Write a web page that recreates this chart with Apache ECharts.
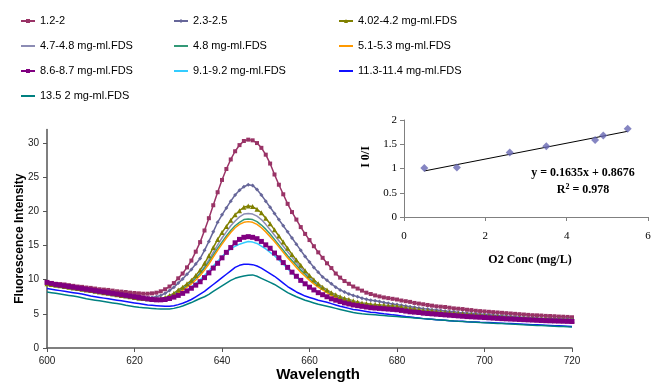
<!DOCTYPE html>
<html>
<head>
<meta charset="utf-8">
<script src="https://cdn.jsdelivr.net/npm/echarts@6/dist/echarts.min.js"></script>
<style>
  html, body { margin: 0; padding: 0; background: #fff; }
  #chart { width: 651px; height: 383px; }
</style>
</head>
<body>
<div id="chart"></div>
<script>
// wavelength (nm), 1 nm steps
const wavelength = [
  600,601,602,603,604,605,606,607,608,609,610,611,612,613,614,615,616,617,618,619,
  620,621,622,623,624,625,626,627,628,629,630,631,632,633,634,635,636,637,638,639,
  640,641,642,643,644,645,646,647,648,649,650,651,652,653,654,655,656,657,658,659,
  660,661,662,663,664,665,666,667,668,669,670,671,672,673,674,675,676,677,678,679,
  680,681,682,683,684,685,686,687,688,689,690,691,692,693,694,695,696,697,698,699,
  700,701,702,703,704,705,706,707,708,709,710,711,712,713,714,715,716,717,718,719,720
];

const fds12 = [
  9.6,9.5,9.4,9.35,9.3,9.2,9.1,9.0,8.95,8.85,8.8,8.7,8.6,8.55,8.5,8.4,8.3,8.25,8.2,8.1,
  8.05,8.0,7.95,7.95,8.0,8.1,8.3,8.6,9.0,9.5,10.2,10.9,11.8,12.8,14.1,15.5,17.2,19.0,20.9,22.8,
  24.6,26.2,27.6,28.8,29.7,30.3,30.5,30.4,30.0,29.3,28.3,27.0,25.4,23.9,22.5,21.1,19.9,18.8,17.7,16.7,
  15.8,14.9,14.0,13.2,12.4,11.7,10.9,10.3,9.8,9.4,9.0,8.7,8.4,8.1,7.9,7.7,7.55,7.4,7.3,7.2,
  7.1,6.95,6.85,6.75,6.6,6.5,6.4,6.3,6.2,6.1,6.05,6.0,5.9,5.8,5.75,5.7,5.6,5.55,5.45,5.4,
  5.35,5.3,5.25,5.2,5.15,5.1,5.05,5.0,4.95,4.9,4.85,4.8,4.78,4.75,4.7,4.68,4.65,4.6,4.58,4.55,4.5
];
const fds23 = [
  9.5,9.4,9.3,9.2,9.1,9.0,8.9,8.8,8.7,8.6,8.5,8.4,8.3,8.2,8.1,8.0,7.9,7.8,7.7,7.6,
  7.5,7.45,7.4,7.35,7.4,7.5,7.7,8.0,8.4,8.9,9.5,10.1,10.8,11.5,12.3,13.1,14.3,15.6,17.0,18.4,
  19.5,20.5,21.5,22.4,23.1,23.6,23.9,23.8,23.2,22.4,21.5,20.6,19.7,18.8,17.9,17.0,16.1,15.2,14.3,13.4,
  12.6,11.8,11.1,10.4,9.9,9.4,8.9,8.5,8.2,7.9,7.7,7.5,7.3,7.15,7.0,6.9,6.8,6.65,6.55,6.45,
  6.35,6.25,6.15,6.05,5.95,5.85,5.75,5.7,5.6,5.55,5.5,5.4,5.35,5.3,5.2,5.15,5.1,5.05,5.0,4.95,
  4.9,4.85,4.8,4.75,4.7,4.65,4.6,4.55,4.5,4.45,4.4,4.38,4.35,4.33,4.3,4.28,4.25,4.23,4.2,4.2,4.18
];
const fds402 = [
  9.4,9.3,9.2,9.1,9.0,8.9,8.8,8.7,8.6,8.5,8.4,8.3,8.2,8.1,8.0,7.9,7.8,7.7,7.6,7.5,
  7.4,7.3,7.25,7.2,7.15,7.15,7.25,7.4,7.7,8.0,8.5,8.9,9.4,9.9,10.6,11.4,12.4,13.5,14.7,15.9,
  16.9,17.8,18.7,19.5,20.1,20.6,20.8,20.7,20.3,19.8,19.0,18.2,17.3,16.4,15.5,14.6,13.7,12.9,12.1,11.3,
  10.6,10.0,9.4,8.9,8.5,8.1,7.8,7.5,7.3,7.1,6.9,6.75,6.6,6.5,6.4,6.35,6.3,6.25,6.2,6.15,
  6.1,6.0,5.9,5.8,5.7,5.6,5.5,5.45,5.4,5.3,5.25,5.2,5.15,5.1,5.05,5.0,4.95,4.9,4.85,4.8,
  4.75,4.7,4.65,4.6,4.55,4.5,4.45,4.4,4.38,4.35,4.3,4.28,4.25,4.22,4.2,4.18,4.15,4.12,4.1,4.08,4.05
];
const fds47 = [
  9.4,9.3,9.2,9.1,9.0,8.9,8.8,8.7,8.6,8.5,8.4,8.3,8.2,8.1,8.0,7.9,7.8,7.7,7.6,7.5,
  7.4,7.3,7.2,7.15,7.1,7.1,7.2,7.35,7.6,7.9,8.3,8.7,9.2,9.7,10.3,11.0,11.9,12.9,14.0,15.1,
  16.1,17.0,17.9,18.6,19.2,19.6,19.7,19.6,19.3,18.8,18.1,17.3,16.5,15.7,14.9,14.1,13.3,12.5,11.8,11.1,
  10.4,9.8,9.3,8.8,8.4,8.0,7.7,7.4,7.2,7.0,6.8,6.65,6.5,6.4,6.3,6.25,6.2,6.15,6.1,6.05,
  6.0,5.9,5.8,5.7,5.6,5.5,5.45,5.4,5.3,5.25,5.2,5.15,5.1,5.05,5.0,4.95,4.9,4.85,4.8,4.75,
  4.7,4.65,4.6,4.55,4.5,4.45,4.4,4.37,4.34,4.3,4.27,4.24,4.21,4.18,4.15,4.12,4.1,4.08,4.05,4.03,4.0
];
const fds48 = [
  9.3,9.2,9.1,9.0,8.9,8.8,8.7,8.6,8.5,8.4,8.3,8.2,8.1,8.0,7.9,7.8,7.7,7.6,7.5,7.4,
  7.3,7.2,7.15,7.1,7.05,7.05,7.15,7.3,7.55,7.85,8.25,8.65,9.1,9.6,10.2,10.9,11.7,12.6,13.6,14.6,
  15.5,16.4,17.2,17.9,18.4,18.8,18.9,18.8,18.5,18.0,17.4,16.7,15.9,15.1,14.3,13.5,12.8,12.1,11.4,10.8,
  10.1,9.6,9.1,8.6,8.2,7.8,7.5,7.25,7.05,6.85,6.7,6.55,6.45,6.35,6.25,6.2,6.1,6.05,6.0,5.95,
  5.9,5.8,5.7,5.6,5.5,5.45,5.4,5.3,5.25,5.2,5.15,5.1,5.05,5.0,4.95,4.9,4.85,4.8,4.75,4.7,
  4.65,4.6,4.55,4.5,4.45,4.4,4.36,4.33,4.3,4.26,4.23,4.2,4.17,4.14,4.11,4.08,4.05,4.03,4.0,3.98,3.96
];
const fds51 = [
  9.3,9.2,9.1,9.0,8.9,8.8,8.7,8.6,8.5,8.4,8.3,8.2,8.1,8.0,7.9,7.8,7.7,7.6,7.5,7.4,
  7.3,7.2,7.1,7.05,7.0,7.0,7.05,7.2,7.4,7.7,8.05,8.45,8.9,9.4,9.95,10.6,11.4,12.3,13.3,14.3,
  15.2,16.1,16.9,17.6,18.1,18.4,18.5,18.4,18.1,17.6,17.0,16.3,15.6,14.8,14.0,13.2,12.5,11.8,11.1,10.5,
  9.9,9.4,8.9,8.5,8.1,7.7,7.4,7.15,6.95,6.8,6.65,6.5,6.4,6.3,6.2,6.15,6.05,6.0,5.95,5.9,
  5.85,5.75,5.65,5.55,5.45,5.4,5.35,5.25,5.2,5.15,5.1,5.05,5.0,4.95,4.9,4.85,4.8,4.75,4.7,4.65,
  4.6,4.55,4.5,4.45,4.4,4.35,4.31,4.28,4.25,4.21,4.18,4.15,4.12,4.09,4.06,4.03,4.0,3.98,3.95,3.93,3.91
];
const fds86 = [
  9.6,9.45,9.3,9.2,9.1,9.0,8.9,8.8,8.7,8.6,8.5,8.4,8.3,8.2,8.1,8.0,7.9,7.8,7.7,7.6,
  7.5,7.4,7.3,7.2,7.1,7.05,7.05,7.1,7.25,7.45,7.7,8.0,8.35,8.75,9.2,9.7,10.3,11.0,11.7,12.4,
  13.2,14.0,14.7,15.4,15.9,16.2,16.3,16.2,16.0,15.6,15.1,14.6,13.9,13.2,12.5,11.8,11.1,10.5,9.9,9.4,
  8.9,8.5,8.1,7.8,7.5,7.2,7.0,6.8,6.6,6.45,6.3,6.2,6.1,6.0,5.9,5.85,5.8,5.75,5.7,5.65,
  5.6,5.5,5.4,5.3,5.25,5.2,5.1,5.05,5.0,4.95,4.9,4.85,4.8,4.75,4.7,4.65,4.6,4.57,4.53,4.5,
  4.46,4.42,4.38,4.34,4.3,4.27,4.24,4.21,4.18,4.15,4.12,4.09,4.06,4.03,4.0,3.98,3.96,3.94,3.92,3.9,3.88
];
const fds91 = [
  9.2,9.1,9.0,8.9,8.8,8.7,8.6,8.5,8.4,8.3,8.2,8.1,8.0,7.9,7.8,7.7,7.6,7.5,7.4,7.3,
  7.2,7.1,7.0,6.95,6.9,6.9,6.95,7.05,7.2,7.45,7.75,8.1,8.5,8.95,9.45,10.0,10.6,11.3,12.0,12.7,
  13.4,14.0,14.5,14.9,15.2,15.4,15.6,15.5,15.3,14.9,14.5,14.0,13.5,12.9,12.3,11.6,11.0,10.4,9.8,9.3,
  8.85,8.45,8.05,7.75,7.45,7.2,6.95,6.75,6.6,6.45,6.3,6.2,6.1,6.0,5.95,5.9,5.85,5.8,5.75,5.7,
  5.65,5.55,5.45,5.35,5.3,5.25,5.15,5.1,5.05,5.0,4.95,4.9,4.85,4.8,4.75,4.7,4.65,4.6,4.56,4.52,
  4.48,4.44,4.4,4.36,4.32,4.28,4.25,4.22,4.19,4.16,4.13,4.1,4.07,4.04,4.01,3.98,3.96,3.94,3.92,3.9,3.88
];
const fds113 = [
  8.7,8.6,8.5,8.4,8.3,8.2,8.1,8.0,7.9,7.75,7.6,7.5,7.4,7.3,7.2,7.1,7.0,6.9,6.8,6.7,
  6.6,6.5,6.4,6.3,6.25,6.2,6.15,6.1,6.1,6.2,6.35,6.55,6.8,7.1,7.5,7.9,8.3,8.8,9.3,9.8,
  10.3,10.8,11.3,11.8,12.1,12.25,12.25,12.2,12.0,11.7,11.3,10.9,10.5,10.0,9.5,9.0,8.6,8.2,7.9,7.6,
  7.4,7.2,7.0,6.85,6.7,6.5,6.3,6.1,5.95,5.8,5.65,5.55,5.45,5.35,5.25,5.2,5.1,5.0,4.95,4.85,
  4.8,4.7,4.6,4.55,4.45,4.4,4.3,4.25,4.2,4.15,4.1,4.05,4.0,3.95,3.92,3.9,3.85,3.82,3.8,3.77,
  3.75,3.72,3.69,3.66,3.63,3.6,3.57,3.54,3.51,3.48,3.45,3.42,3.39,3.36,3.33,3.3,3.27,3.24,3.21,3.18,3.15
];
const fds135 = [
  8.2,8.1,8.0,7.9,7.8,7.7,7.6,7.5,7.35,7.2,7.1,7.0,6.9,6.8,6.7,6.6,6.5,6.4,6.25,6.15,
  6.05,5.95,5.9,5.85,5.8,5.75,5.72,5.7,5.72,5.8,5.95,6.15,6.4,6.65,6.95,7.25,7.5,7.85,8.3,8.7,
  9.1,9.5,9.9,10.2,10.4,10.55,10.65,10.7,10.5,10.2,9.9,9.6,9.3,8.9,8.5,8.1,7.8,7.5,7.25,7.0,
  6.8,6.6,6.4,6.25,6.1,5.95,5.8,5.65,5.5,5.35,5.2,5.1,5.0,4.95,4.9,4.85,4.8,4.75,4.7,4.65,
  4.6,4.55,4.5,4.45,4.4,4.35,4.3,4.25,4.2,4.15,4.1,4.05,4.0,3.95,3.9,3.87,3.83,3.8,3.77,3.73,
  3.7,3.67,3.64,3.6,3.57,3.54,3.5,3.47,3.44,3.4,3.37,3.34,3.31,3.28,3.25,3.22,3.19,3.16,3.13,3.1,3.08
];

// Stern-Volmer inset
const o2Conc = [0.5, 1.3, 2.6, 3.5, 4.7, 4.9, 5.5];
const i0OverI = [1.01, 1.02, 1.33, 1.46, 1.59, 1.68, 1.82];
const fitSlope = 0.1635;
const fitIntercept = 0.8676;
const fitR2 = 0.978;

const wlTicks = { min: 600, max: 720, step: 20 };
const intensityTicks = { min: 0, max: 32, step: 5 };

const sans = 'Liberation Sans, Arial, sans-serif';
const serif = 'Liberation Serif, Times New Roman, serif';

const spectra = [
  { name: '1.2-2', data: fds12, color: '#993366', symbol: 'rect', size: 4 },
  { name: '2.3-2.5', data: fds23, color: '#666699', symbol: 'diamond', size: 4 },
  { name: '4.02-4.2 mg-ml.FDS', data: fds402, color: '#808000', symbol: 'triangle', size: 5 },
  { name: '4.7-4.8 mg-ml.FDS', data: fds47, color: '#8c8cb4', symbol: 'none', size: 0 },
  { name: '4.8 mg-ml.FDS', data: fds48, color: '#339977', symbol: 'none', size: 0 },
  { name: '5.1-5.3 mg-ml.FDS', data: fds51, color: '#ff9900', symbol: 'none', size: 0 },
  { name: '8.6-8.7 mg-ml.FDS', data: fds86, color: '#800080', symbol: 'rect', size: 5 },
  { name: '9.1-9.2 mg-ml.FDS', data: fds91, color: '#33ccff', symbol: 'none', size: 0 },
  { name: '11.3-11.4 mg-ml.FDS', data: fds113, color: '#1010ff', symbol: 'none', size: 0 },
  { name: '13.5 2 mg-ml.FDS', data: fds135, color: '#008080', symbol: 'none', size: 0 }
];

const lineSeries = spectra.map(s => ({
  name: s.name,
  type: 'line',
  xAxisIndex: 0,
  yAxisIndex: 0,
  data: wavelength.map((w, i) => [w, s.data[i]]),
  symbol: s.symbol,
  symbolSize: s.size,
  showSymbol: s.symbol !== 'none',
  showAllSymbol: true,
  color: s.color,
  lineStyle: { width: 1.5, color: s.color },
  itemStyle: { color: s.color },
  animation: false
}));

// plain line icon in the legend for series drawn without markers
const lineIcon = 'path://M0,0H14V2H0Z';
const legendItem = idx => spectra[idx].symbol === 'none'
  ? { name: spectra[idx].name, icon: lineIcon }
  : { name: spectra[idx].name };

const legendBase = {
  orient: 'vertical',
  top: 15,
  padding: 0,
  itemWidth: 14,
  itemHeight: 5,
  itemGap: 13,
  selectedMode: false,
  textStyle: { fontSize: 11, fontFamily: sans, color: '#000', lineHeight: 12 }
};

const axisGray = '#555';

function fitX() {
  return [o2Conc[0], o2Conc[o2Conc.length - 1]];
}

const option = {
  backgroundColor: '#fff',
  animation: false,
  legend: [
    Object.assign({}, legendBase, { left: 20, data: [0, 3, 6, 9].map(legendItem) }),
    Object.assign({}, legendBase, { left: 173, data: [1, 4, 7].map(legendItem) }),
    Object.assign({}, legendBase, { left: 338, data: [2, 5, 8].map(legendItem) })
  ],
  grid: [
    { left: 47, right: 79, top: 129.4, bottom: 35, outerBoundsMode: 'none' },
    { left: 404, right: 3, top: 120, bottom: 166, outerBoundsMode: 'none' }
  ],
  xAxis: [
    {
      type: 'value', gridIndex: 0,
      min: wlTicks.min, max: wlTicks.max, interval: wlTicks.step,
      name: 'Wavelength', nameLocation: 'middle', nameGap: 19, nameMoveOverlap: false,
      nameTextStyle: { fontFamily: sans, fontSize: 15, fontWeight: 'bold', color: '#000', padding: [0, 0, 0, 17] },
      axisLine: { lineStyle: { color: axisGray, width: 1.5 } },
      axisTick: { length: 4, lineStyle: { color: axisGray } },
      axisLabel: { fontFamily: sans, fontSize: 10, color: '#222', margin: 8 },
      splitLine: { show: false }
    },
    {
      type: 'value', gridIndex: 1,
      min: 0, max: 6, interval: 2,
      name: 'O2 Conc (mg/L)', nameLocation: 'middle', nameGap: 37,
      nameTextStyle: { fontFamily: serif, fontSize: 12, fontWeight: 'bold', color: '#000', padding: [0, 0, 0, 8] },
      axisLine: { lineStyle: { color: '#808080' } },
      axisTick: { length: 4, lineStyle: { color: '#808080' } },
      axisLabel: { fontFamily: serif, fontSize: 11, color: '#000', margin: 14 },
      splitLine: { show: false }
    }
  ],
  yAxis: [
    {
      type: 'value', gridIndex: 0,
      min: intensityTicks.min, max: intensityTicks.max, interval: intensityTicks.step,
      name: 'Fluorescence Intensity', nameLocation: 'middle', nameGap: 21, nameMoveOverlap: false,
      nameTextStyle: { fontFamily: sans, fontSize: 12, fontWeight: 'bold', color: '#000' },
      axisLine: { show: true, lineStyle: { color: axisGray, width: 1.5 } },
      axisTick: { show: true, length: 4, lineStyle: { color: axisGray } },
      axisLabel: { fontFamily: sans, fontSize: 10, color: '#222', margin: 8, showMaxLabel: false },
      splitLine: { show: false }
    },
    {
      type: 'value', gridIndex: 1,
      min: 0, max: 2, interval: 0.5,
      axisLine: { show: true, lineStyle: { color: '#808080' } },
      axisTick: { show: true, length: 4, lineStyle: { color: '#808080' } },
      axisLabel: { fontFamily: serif, fontSize: 11, color: '#000', margin: 7 },
      splitLine: { show: false }
    }
  ],
  graphic: [
    {
      type: 'text', x: 366, y: 157, rotation: Math.PI / 2,
      style: { text: 'I 0/I', font: 'bold 12px ' + serif, fill: '#000', align: 'center', verticalAlign: 'middle' }
    },
    {
      type: 'text', x: 583, y: 173,
      style: {
        text: 'y = ' + fitSlope + 'x + ' + fitIntercept,
        font: 'bold 12px ' + serif, fill: '#000', align: 'center', verticalAlign: 'middle'
      }
    },
    {
      type: 'text', x: 583, y: 190,
      style: {
        text: 'R{sup|2} = ' + fitR2,
        font: 'bold 12px ' + serif, fill: '#000', align: 'center', verticalAlign: 'middle',
        rich: { sup: { font: 'bold 8px ' + serif, verticalAlign: 'top', padding: [0, 0, 6, 0] } }
      }
    }
  ],
  series: lineSeries.concat([
    {
      name: 'fit', type: 'line', xAxisIndex: 1, yAxisIndex: 1,
      data: fitX().map(x => [x, fitSlope * x + fitIntercept]),
      symbol: 'none', lineStyle: { color: '#000', width: 1 }, z: 3
    },
    {
      name: 'I0/I', type: 'scatter', xAxisIndex: 1, yAxisIndex: 1,
      data: o2Conc.map((c, i) => [c, i0OverI[i]]),
      symbol: 'diamond', symbolSize: 8,
      itemStyle: { color: '#6666b3' }, z: 4
    }
  ])
};

const chart = echarts.init(document.getElementById('chart'), null, { renderer: 'canvas' });
chart.setOption(option);
</script>
</body>
</html>
